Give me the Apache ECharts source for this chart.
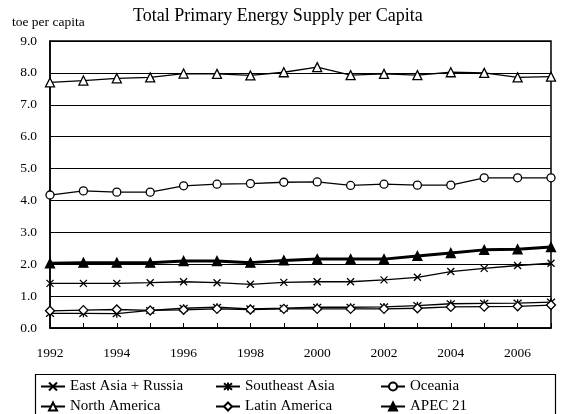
<!DOCTYPE html>
<html>
<head>
<meta charset="utf-8">
<script src="https://cdn.jsdelivr.net/npm/echarts@6/dist/echarts.min.js"></script>
<style>
  html, body { margin: 0; padding: 0; background: #fff; }
  #chart { width: 576px; height: 414px; }
</style>
</head>
<body>
<div id="chart"></div>
<script>
// values (toe per capita)
const years = ['1992', '1993', '1994', '1995', '1996', '1997', '1998', '1999',
  '2000', '2001', '2002', '2003', '2004', '2005', '2006', '2007'];
const eastAsiaRussia = [1.40, 1.40, 1.40, 1.42, 1.45, 1.42, 1.37, 1.43, 1.45, 1.45, 1.51, 1.59, 1.77, 1.87, 1.96, 2.03];
const southeastAsia = [0.46, 0.46, 0.45, 0.55, 0.62, 0.65, 0.60, 0.62, 0.65, 0.65, 0.66, 0.70, 0.76, 0.77, 0.78, 0.81];
const oceania = [4.17, 4.30, 4.26, 4.26, 4.46, 4.51, 4.53, 4.57, 4.58, 4.47, 4.51, 4.48, 4.48, 4.71, 4.71, 4.71];
const northAmerica = [7.70, 7.76, 7.83, 7.86, 7.98, 7.97, 7.92, 8.02, 8.18, 7.93, 7.97, 7.93, 8.02, 8.00, 7.86, 7.88];
const latinAmerica = [0.54, 0.56, 0.58, 0.55, 0.57, 0.60, 0.58, 0.60, 0.60, 0.60, 0.60, 0.62, 0.66, 0.67, 0.68, 0.72];
const apec21 = [2.03, 2.05, 2.05, 2.05, 2.10, 2.10, 2.05, 2.12, 2.16, 2.16, 2.16, 2.26, 2.35, 2.45, 2.47, 2.54];
const yTicks = [0, 1, 2, 3, 4, 5, 6, 7, 8, 9];

const SERIF = '"Liberation Serif", "DejaVu Serif", serif';
const X_MARK = 'path://M0,0L10,10M10,0L0,10';
const STAR_MARK = 'path://M0,0L10,10M10,0L0,10M5,-1L5,11';

function line(name, data, symbol, opts = {}) {
  return {
    name, type: 'line', data, symbol,
    symbolSize: opts.size || 8,
    showAllSymbol: true,
    lineStyle: { color: '#000', width: opts.width || 1.3 },
    itemStyle: { color: opts.fill || '#fff', borderColor: '#000', borderWidth: 1.3 },
    emphasis: { disabled: true },
    z: opts.z || 2,
  };
}

const legendText = { fontFamily: SERIF, fontSize: 15, color: '#000' };
function legendCol(left, names) {
  return {
    left, top: 379, height: 60, padding: 0, orient: 'vertical', itemGap: 5,
    itemWidth: 24, itemHeight: 10, textStyle: legendText, data: names, selectedMode: false,
  };
}

const chart = echarts.init(document.getElementById('chart'));
chart.setOption({
  animation: false,
  backgroundColor: '#fff',
  title: [
    { text: 'Total Primary Energy Supply per Capita', left: 128, top: 2,
      textStyle: { fontFamily: SERIF, fontSize: 18, fontWeight: 'normal', color: '#000' } },
    { text: 'toe per capita', left: 7, top: 10,
      textStyle: { fontFamily: SERIF, fontSize: 13.5, fontWeight: 'normal', color: '#000' } },
  ],
  grid: { left: 50, right: 25, top: 41, bottom: 86, show: true, borderColor: '#000', borderWidth: 1.5 },
  legend: [
    legendCol(40, ['East Asia + Russia', 'North America']),
    legendCol(215, ['Southeast Asia', 'Latin America']),
    legendCol(380, ['Oceania', 'APEC 21']),
  ],
  graphic: [{
    type: 'rect', left: 33, top: 372, shape: { width: 520, height: 50 },
    style: { fill: 'none', stroke: '#000', lineWidth: 1.2 }, z: 0,
  }],
  xAxis: {
    type: 'category', data: years, boundaryGap: false,
    axisLine: { lineStyle: { color: '#000', width: 1.5 } },
    axisTick: { inside: true, length: 5, interval: 0, lineStyle: { color: '#000' } },
    axisLabel: { interval: 1, margin: 18, fontFamily: SERIF, fontSize: 13.5, color: '#000' },
    splitLine: { show: false },
  },
  yAxis: {
    type: 'value', min: yTicks[0], max: yTicks[yTicks.length - 1], interval: 1,
    axisLine: { show: true, lineStyle: { color: '#000', width: 1.5 } },
    axisTick: { show: true, inside: true, length: 4, lineStyle: { color: '#000' } },
    axisLabel: { formatter: v => v.toFixed(1), margin: 13, fontFamily: SERIF, fontSize: 13.5, color: '#000' },
    splitLine: { lineStyle: { color: '#000', width: 1 } },
  },
  series: [
    line('East Asia + Russia', eastAsiaRussia, X_MARK, { size: 7 }),
    line('Southeast Asia', southeastAsia, STAR_MARK, { size: 8 }),
    line('Oceania', oceania, 'circle', { size: 8 }),
    line('North America', northAmerica, 'triangle', { size: 9 }),
    line('Latin America', latinAmerica, 'diamond', { size: 9 }),
    line('APEC 21', apec21, 'triangle', { size: 9, width: 3, fill: '#000', z: 3 }),
  ],
});
</script>
</body>
</html>
